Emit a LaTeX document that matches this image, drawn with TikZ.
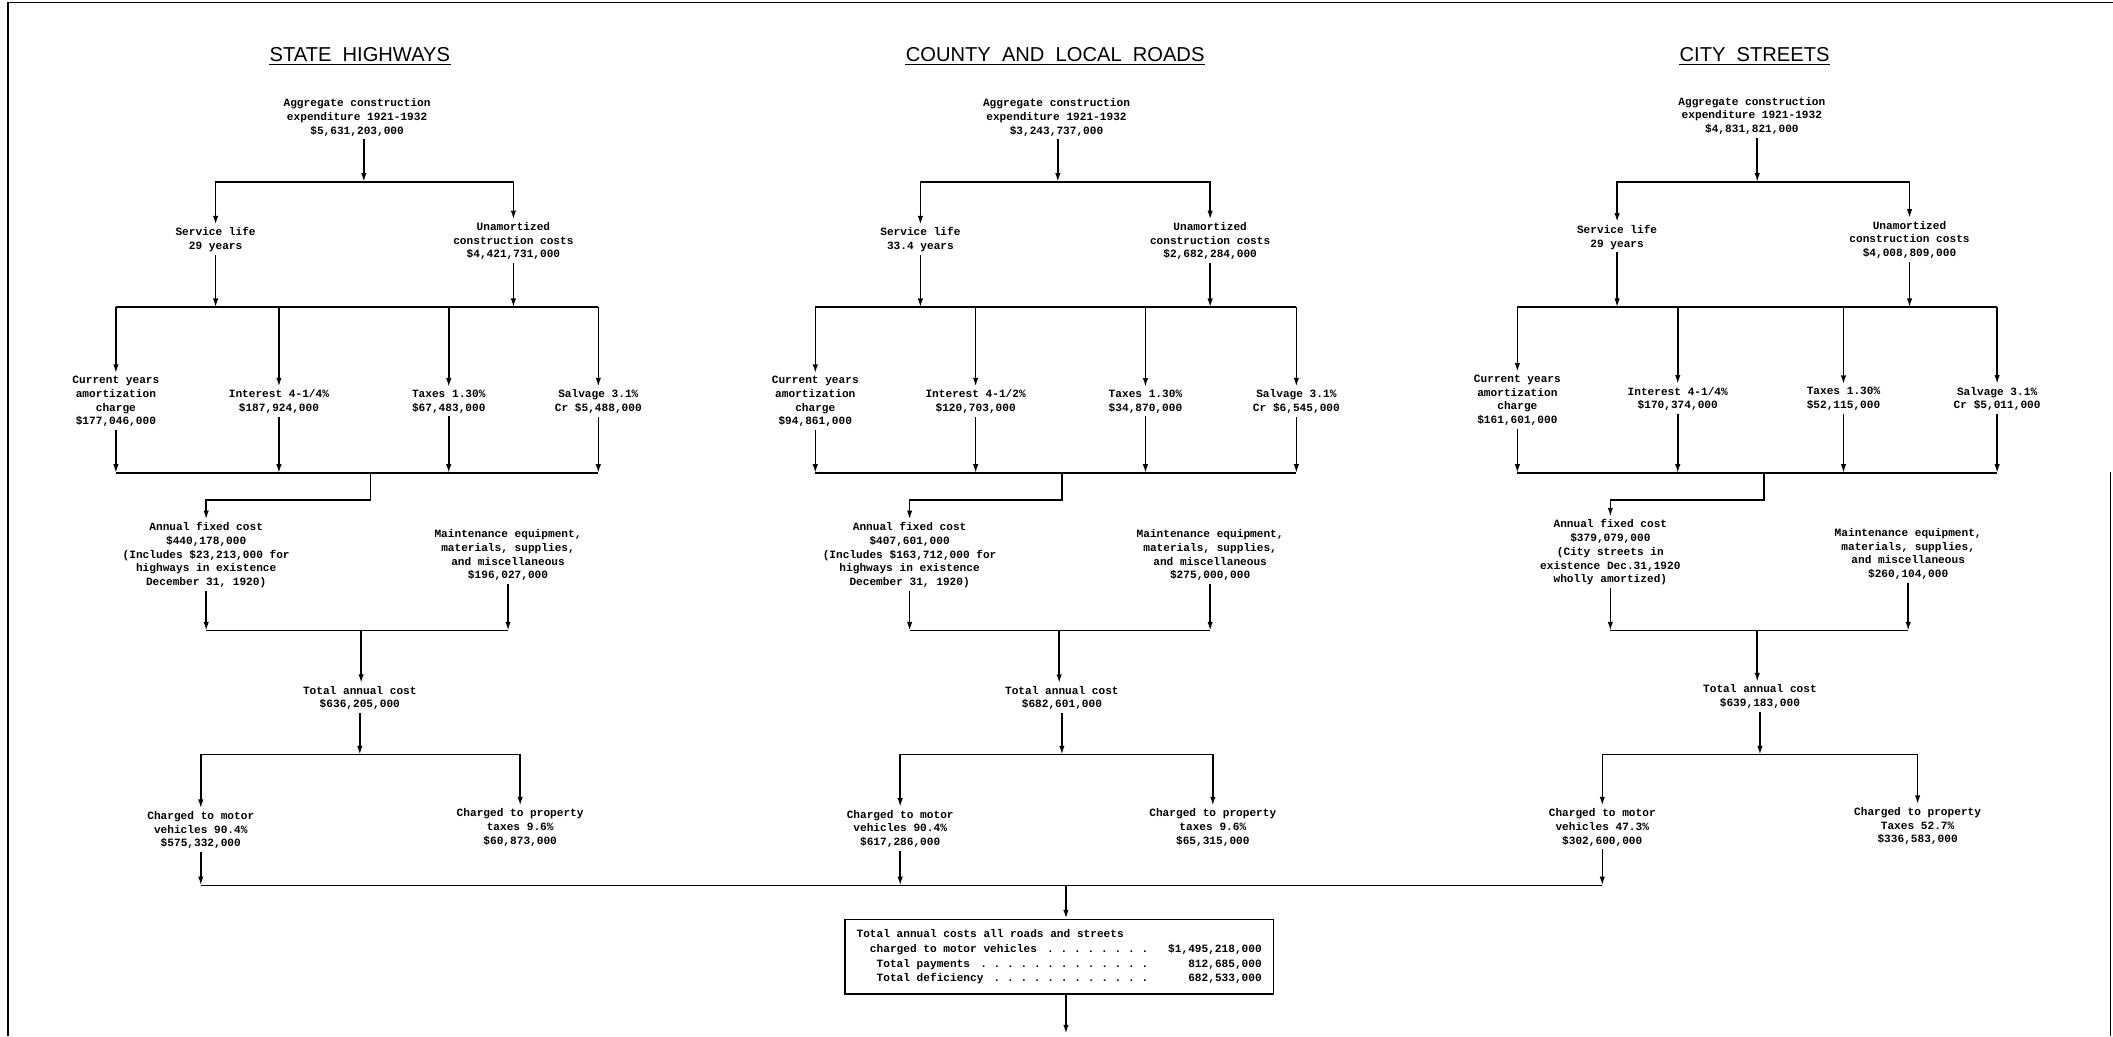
\documentclass[tikz,border=0pt]{standalone}
\usepackage{fontspec}
\setmonofont{Liberation Mono}
\newfontfamily\titlefont{Liberation Sans}
\usetikzlibrary{arrows.meta}
\newcommand\dotlead{\xleaders\hbox to 1.2em{\hss.\hss}\hskip 0pt plus 1filll\null}

\begin{document}
\begin{tikzpicture}[x=0.4mm, y=-0.4mm, line width=1.3pt, >={Latex[length=2.6mm,width=1.6mm]},
  txt/.style={align=center, inner sep=2pt, font=\fontsize{9.4}{11.6}\selectfont\ttfamily\bfseries},
  heading/.style={anchor=base, inner sep=0pt, font=\fontsize{17}{20}\selectfont\titlefont},
  uline/.style={line width=1.2pt},
  frame/.style={line width=1pt}]

  \useasboundingbox (0,0) rectangle (1568,769);
  \draw[frame] (6,769) -- (6,2) -- (1568,2);
  \draw[frame] (1566,350) -- (1566,769);

  \coordinate (r2) at (0,228);
  \coordinate (r3) at (0,351);
  \coordinate (r3b) at (0,371);
  \coordinate (r4) at (0,468);
  \coordinate (r5) at (0,560);
  \coordinate (r6) at (0,657);

  % state highways
  \node[heading] (title1) at (267,46) {STATE\ \ HIGHWAYS};
  \draw[uline] ([yshift=-1.5pt]title1.south west) -- ([yshift=-1.5pt]title1.south east);
  \node[txt] (agg1) at (265,87) {Aggregate construction\\expenditure 1921-1932\\\$5,631,203,000};
  \node[txt] (svc1) at (160,178) {Service life\\29 years};
  \node[txt] (unam1) at (381,179) {Unamortized\\construction costs\\\$4,421,731,000};
  \node[txt] (cur1) at (86,298) {Current years\\amortization\\charge\\\$177,046,000};
  \node[txt] (int1) at (207,298) {Interest 4-1/4\%\\\$187,924,000};
  \node[txt] (tax1) at (333,298) {Taxes 1.30\%\\\$67,483,000};
  \node[txt] (salv1) at (444,298) {Salvage 3.1\%\\Cr \$5,488,000};
  \node[txt] (afc1) at (153,412) {Annual fixed cost\\\$440,178,000\\(Includes \$23,213,000 for\\highways in existence\\December 31, 1920)};
  \node[txt] (mnt1) at (377,412) {Maintenance equipment,\\materials, supplies,\\and miscellaneous\\\$196,027,000};
  \node[txt] (tot1) at (267,518) {Total annual cost\\\$636,205,000};
  \node[txt] (mv1) at (149,616) {Charged to motor\\vehicles 90.4\%\\\$575,332,000};
  \node[txt] (pt1) at (386,614) {Charged to property\\taxes 9.6\%\\\$60,873,000};
  \coordinate (top1) at (270,135);
  \coordinate (mid1) at (275,351);
  \coordinate (low1) at (268,468);

  \draw[->] (agg1.south -| top1) -- (top1);
  \draw[->] (top1) -| (svc1);
  \draw[->] (top1) -| (unam1);
  \draw[->] (svc1) -- (svc1 |- r2);
  \draw[->] (unam1) -- (unam1 |- r2);
  \draw (cur1 |- r2) -- (salv1 |- r2);
  \draw[->] (cur1 |- r2) -- (cur1); \draw[->] (int1 |- r2) -- (int1);
  \draw[->] (tax1 |- r2) -- (tax1); \draw[->] (salv1 |- r2) -- (salv1);
  \draw[->] (cur1) -- (cur1 |- r3); \draw[->] (int1) -- (int1 |- r3);
  \draw[->] (tax1) -- (tax1 |- r3); \draw[->] (salv1) -- (salv1 |- r3);
  \draw (cur1 |- r3) -- (salv1 |- r3);
  \draw[->] (mid1) -- (mid1 |- r3b) -| (afc1);
  \draw[->] (afc1) -- (afc1 |- r4);
  \draw[->] (mnt1) -- (mnt1 |- r4);
  \draw (afc1 |- r4) -- (mnt1 |- r4);
  \draw[->] (low1) -- (low1 |- tot1.north);
  \draw[->] (tot1) -- (tot1 |- r5);
  \draw[->] (tot1 |- r5) -| (mv1);
  \draw[->] (tot1 |- r5) -| (pt1);
  \draw[->] (mv1) -- (mv1 |- r6);

  % county and local roads
  \node[heading] (title2) at (783,46) {COUNTY\ \ AND\ \ LOCAL\ \ ROADS};
  \draw[uline] ([yshift=-1.5pt]title2.south west) -- ([yshift=-1.5pt]title2.south east);
  \node[txt] (agg2) at (784,87) {Aggregate construction\\expenditure 1921-1932\\\$3,243,737,000};
  \node[txt] (svc2) at (683,178) {Service life\\33.4 years};
  \node[txt] (unam2) at (898,179) {Unamortized\\construction costs\\\$2,682,284,000};
  \node[txt] (cur2) at (605,298) {Current years\\amortization\\charge\\\$94,861,000};
  \node[txt] (int2) at (724,298) {Interest 4-1/2\%\\\$120,703,000};
  \node[txt] (tax2) at (850,298) {Taxes 1.30\%\\\$34,870,000};
  \node[txt] (salv2) at (962,298) {Salvage 3.1\%\\Cr \$6,545,000};
  \node[txt] (afc2) at (675,412) {Annual fixed cost\\\$407,601,000\\(Includes \$163,712,000 for\\highways in existence\\December 31, 1920)};
  \node[txt] (mnt2) at (898,412) {Maintenance equipment,\\materials, supplies,\\and miscellaneous\\\$275,000,000};
  \node[txt] (tot2) at (788,518) {Total annual cost\\\$682,601,000};
  \node[txt] (mv2) at (668,615) {Charged to motor\\vehicles 90.4\%\\\$617,286,000};
  \node[txt] (pt2) at (900,614) {Charged to property\\taxes 9.6\%\\\$65,315,000};
  \coordinate (top2) at (785,135);
  \coordinate (mid2) at (788,351);
  \coordinate (low2) at (786,468);

  \draw[->] (agg2.south -| top2) -- (top2);
  \draw[->] (top2) -| (svc2);
  \draw[->] (top2) -| (unam2);
  \draw[->] (svc2) -- (svc2 |- r2);
  \draw[->] (unam2) -- (unam2 |- r2);
  \draw (cur2 |- r2) -- (salv2 |- r2);
  \draw[->] (cur2 |- r2) -- (cur2); \draw[->] (int2 |- r2) -- (int2);
  \draw[->] (tax2 |- r2) -- (tax2); \draw[->] (salv2 |- r2) -- (salv2);
  \draw[->] (cur2) -- (cur2 |- r3); \draw[->] (int2) -- (int2 |- r3);
  \draw[->] (tax2) -- (tax2 |- r3); \draw[->] (salv2) -- (salv2 |- r3);
  \draw (cur2 |- r3) -- (salv2 |- r3);
  \draw[->] (mid2) -- (mid2 |- r3b) -| (afc2);
  \draw[->] (afc2) -- (afc2 |- r4);
  \draw[->] (mnt2) -- (mnt2 |- r4);
  \draw (afc2 |- r4) -- (mnt2 |- r4);
  \draw[->] (low2) -- (low2 |- tot2.north);
  \draw[->] (tot2) -- (tot2 |- r5);
  \draw[->] (tot2 |- r5) -| (mv2);
  \draw[->] (tot2 |- r5) -| (pt2);
  \draw[->] (mv2) -- (mv2 |- r6);

  % city streets
  \node[heading] (title3) at (1302,46) {CITY\ \ STREETS};
  \draw[uline] ([yshift=-1.5pt]title3.south west) -- ([yshift=-1.5pt]title3.south east);
  \node[txt] (agg3) at (1300,86) {Aggregate construction\\expenditure 1921-1932\\\$4,831,821,000};
  \node[txt] (svc3) at (1200,176) {Service life\\29 years};
  \node[txt] (unam3) at (1417,178) {Unamortized\\construction costs\\\$4,008,809,000};
  \node[txt] (cur3) at (1126,297) {Current years\\amortization\\charge\\\$161,601,000};
  \node[txt] (int3) at (1245,296) {Interest 4-1/4\%\\\$170,374,000};
  \node[txt] (tax3) at (1368,296) {Taxes 1.30\%\\\$52,115,000};
  \node[txt] (salv3) at (1482,296) {Salvage 3.1\%\\Cr \$5,011,000};
  \node[txt] (afc3) at (1195,410) {Annual fixed cost\\\$379,079,000\\(City streets in\\existence Dec.31,1920\\wholly amortized)};
  \node[txt] (mnt3) at (1416,411) {Maintenance equipment,\\materials, supplies,\\and miscellaneous\\\$260,104,000};
  \node[txt] (tot3) at (1306,517) {Total annual cost\\\$639,183,000};
  \node[txt] (mv3) at (1189,614) {Charged to motor\\vehicles 47.3\%\\\$302,600,000};
  \node[txt] (pt3) at (1423,613) {Charged to property\\Taxes 52.7\%\\\$336,583,000};
  \coordinate (top3) at (1304,135);
  \coordinate (mid3) at (1309,351);
  \coordinate (low3) at (1304,468);

  \draw[->] (agg3.south -| top3) -- (top3);
  \draw[->] (top3) -| (svc3);
  \draw[->] (top3) -| (unam3);
  \draw[->] (svc3) -- (svc3 |- r2);
  \draw[->] (unam3) -- (unam3 |- r2);
  \draw (cur3 |- r2) -- (salv3 |- r2);
  \draw[->] (cur3 |- r2) -- (cur3); \draw[->] (int3 |- r2) -- (int3);
  \draw[->] (tax3 |- r2) -- (tax3); \draw[->] (salv3 |- r2) -- (salv3);
  \draw[->] (cur3) -- (cur3 |- r3); \draw[->] (int3) -- (int3 |- r3);
  \draw[->] (tax3) -- (tax3 |- r3); \draw[->] (salv3) -- (salv3 |- r3);
  \draw (cur3 |- r3) -- (salv3 |- r3);
  \draw[->] (mid3) -- (mid3 |- r3b) -| (afc3);
  \draw[->] (afc3) -- (afc3 |- r4);
  \draw[->] (mnt3) -- (mnt3 |- r4);
  \draw (afc3 |- r4) -- (mnt3 |- r4);
  \draw[->] (low3) -- (low3 |- tot3.north);
  \draw[->] (tot3) -- (tot3 |- r5);
  \draw[->] (tot3 |- r5) -| (mv3);
  \draw[->] (tot3 |- r5) -| (pt3);
  \draw[->] (mv3) -- (mv3 |- r6);

  % all roads and streets
  \node[txt, draw, align=left, minimum width=127.2mm, minimum height=22.2mm,
    font=\fontsize{9.4}{12.5}\selectfont\ttfamily\bfseries] (sum) at (786,710)
    {\begin{tabular}{@{}p{87.6mm}@{\hspace{4.9mm}}r@{}}
      \multicolumn{2}{@{}l@{}}{Total annual costs all roads and streets}\\
      \hspace*{1.2em}charged to motor vehicles \dotlead & \$1,495,218,000\\
      \hspace*{1.8em}Total payments \dotlead & 812,685,000\\
      \hspace*{1.8em}Total deficiency \dotlead & 682,533,000
    \end{tabular}};
  \coordinate (join) at (791,657);
  \coordinate (out) at (791,767);
  \draw (mv1 |- r6) -- (mv3 |- r6);
  \draw[->] (join) -- (join |- sum.north);
  \draw[->] (sum.south -| out) -- (out);
\end{tikzpicture}
\end{document}
